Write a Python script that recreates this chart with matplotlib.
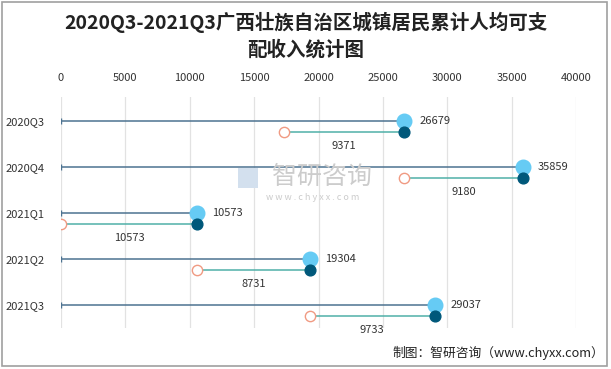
import numpy as np
import matplotlib.pyplot as plt
from matplotlib.patches import Rectangle

plt.rcParams['font.family'] = ['Noto Sans CJK SC', 'DejaVu Sans']

# data
quarters = ['2020Q3', '2020Q4', '2021Q1', '2021Q2', '2021Q3']
cumulative = [26679, 35859, 10573, 19304, 29037]
quarterly = [9371, 9180, 10573, 8731, 9733]
xticks = [0, 5000, 10000, 15000, 20000, 25000, 30000, 35000, 40000]

cum = np.array(cumulative)
q = np.array(quarterly)
start = cum - q
ypos = np.arange(len(quarters))
off = 0.24

fig = plt.figure(figsize=(6.11, 3.69), dpi=100)
ax = fig.add_axes([61 / 611, 1 - 328 / 369, 515 / 611, 231 / 369])

# cumulative line from 0, quarterly line from previous total
for i in range(len(quarters)):
    ax.plot([0, cum[i]], [ypos[i], ypos[i]], color='#4d7391', lw=1.1, zorder=2)
    ax.plot([start[i], cum[i]], [ypos[i] + off, ypos[i] + off], color='#4fb0a8', lw=1.1, zorder=2)
ax.scatter(np.zeros(len(quarters)), ypos, marker='|', s=25, color='#4d7391', lw=1, zorder=3)
ax.scatter(cum, ypos, s=110, color='#66cbf4', zorder=4)
ax.scatter(cum, ypos + off, s=60, color='#00587a', zorder=4)
ax.scatter(start, ypos + off, s=55, facecolor='white', edgecolor='#f09a82', lw=1, zorder=4)

for i in range(len(quarters)):
    ax.annotate(str(cumulative[i]), (cum[i], ypos[i]), xytext=(11, 0),
                textcoords='offset points', va='center', ha='left', fontsize=8, color='#333333')
    ax.text((start[i] + cum[i]) / 2, ypos[i] + off + 0.31, str(quarterly[i]),
            ha='center', va='center', fontsize=8, color='#333333')

ax.set_xlim(0, 40000)
ax.set_ylim(4.5, -0.52)
ax.set_xticks(xticks)
ax.set_xticklabels([str(t) for t in xticks])
ax.xaxis.tick_top()
ax.tick_params(axis='x', length=0, pad=10, labelsize=8, labelcolor='#333333')
ax.set_yticks(ypos)
ax.set_yticklabels(quarters)
ax.tick_params(axis='y', length=0, pad=12, labelsize=8, labelcolor='#333333')
ax.grid(axis='x', color='#e2e2e2', lw=0.9)
ax.set_axisbelow(True)
for s in ax.spines.values():
    s.set_visible(False)

# watermark
fig.text(322 / 611, 1 - 177 / 369, '智研咨询', fontsize=18, color='#cccccc', ha='center', va='center', zorder=0)
fig.text(313 / 611, 1 - 198 / 369, 'w w w . c h y x x . c o m', fontsize=6.5, color='#cccccc',
         ha='center', va='center', zorder=0)
fig.patches.append(Rectangle((238 / 611, 1 - 188 / 369), 20 / 611, 20 / 369, transform=fig.transFigure,
                             facecolor='#d3e0ee', edgecolor='none', zorder=0))

# title and footer
fig.text(0.5, 1 - 22 / 369, '2020Q3-2021Q3广西壮族自治区城镇居民累计人均可支', fontsize=14,
         fontweight='bold', ha='center', va='center', color='#222222')
fig.text(0.5, 1 - 50 / 369, '配收入统计图', fontsize=14,
         fontweight='bold', ha='center', va='center', color='#222222')
fig.text(604 / 611, 1 - 353 / 369, '制图：智研咨询（www.chyxx.com）', fontsize=9.2,
         ha='right', va='center', color='#222222')

fig.patches.append(Rectangle((2 / 611, 3 / 369), 605 / 611, 364 / 369, transform=fig.transFigure,
                             fill=False, edgecolor='#a0a0a0', lw=1.2))

fig.savefig('out.png', dpi=100)
